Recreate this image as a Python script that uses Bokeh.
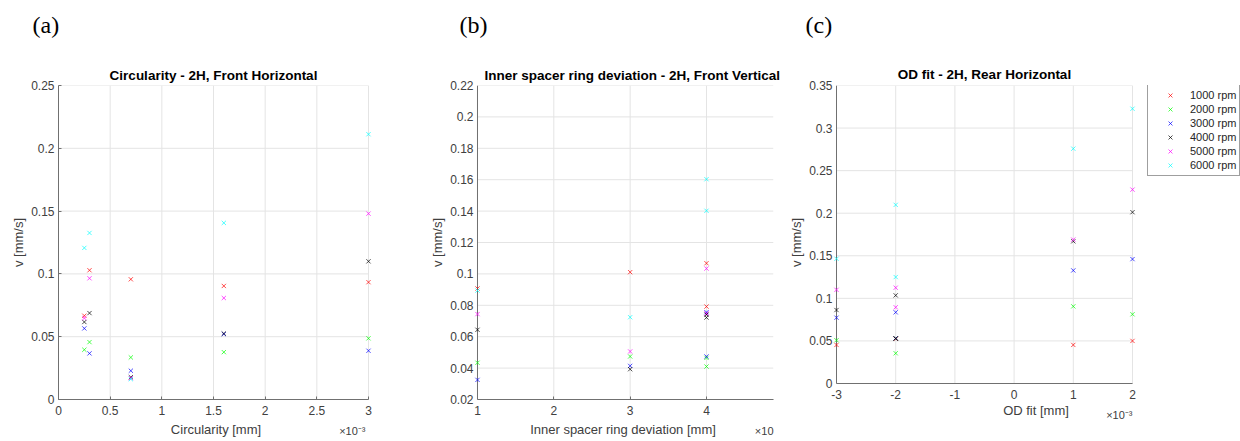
from bokeh.plotting import figure
from bokeh.layouts import row
from bokeh.models import Label, Legend, LegendItem, FixedTicker, NumeralTickFormatter, Range1d
from bokeh.embed import file_html
from bokeh.resources import INLINE

# ---------------- data ----------------
series_labels = ["1000 rpm", "2000 rpm", "3000 rpm", "4000 rpm", "5000 rpm", "6000 rpm"]
series_colors = ["#ff0000", "#00ff00", "#0000ff", "#000000", "#ff00ff", "#00ffff"]

# (a) Circularity [mm] (x in units of 1e-3)
a_x = [0.25, 0.3, 0.7, 1.6, 3.0]
a_1000 = [0.0667, 0.1029, 0.0957, 0.0904, 0.0934]
a_2000 = [0.0396, 0.0457, 0.0335, 0.0377, 0.0487]
a_3000 = [0.0566, 0.0367, 0.0229, 0.0521, 0.0388]
a_4000 = [0.0617, 0.0688, 0.0178, 0.0525, 0.1100]
a_5000 = [0.0648, 0.0965, 0.0170, 0.0808, 0.1480]
a_6000 = [0.1207, 0.1326, 0.0162, 0.1406, 0.2112]
a_xticks = [0, 0.5, 1, 1.5, 2, 2.5, 3]
a_yticks = [0, 0.05, 0.1, 0.15, 0.2, 0.25]

# (b) Inner spacer ring deviation [mm]
b_x = [1, 3, 4, 4]
b_1000 = [0.0907, 0.1011, 0.1068, 0.0792]
b_2000 = [0.0434, 0.0474, 0.0465, 0.0410]
b_3000 = [0.0325, 0.0414, 0.0756, 0.0474]
b_4000 = [0.0644, 0.0393, 0.0741, 0.0722]
b_5000 = [0.0744, 0.0506, 0.1034, 0.0748]
b_6000 = [0.0894, 0.0724, 0.1603, 0.1402]
b_xticks = [1, 2, 3, 4]
b_yticks = [0.02, 0.04, 0.06, 0.08, 0.1, 0.12, 0.14, 0.16, 0.18, 0.2, 0.22]

# (c) OD fit [mm] (x in units of 1e-3)
c_x = [-3, -2, -2, 1, 2]
c_1000 = [0.0453, 0.0530, 0.0525, 0.0453, 0.0500]
c_2000 = [0.0508, 0.0355, 0.0530, 0.0906, 0.0813]
c_3000 = [0.0773, 0.0836, 0.0530, 0.1328, 0.1461]
c_4000 = [0.0863, 0.1035, 0.0527, 0.1670, 0.2012]
c_5000 = [0.1100, 0.1125, 0.0895, 0.1690, 0.2277]
c_6000 = [0.1465, 0.2098, 0.1250, 0.2758, 0.3227]
c_xticks = [-3, -2, -1, 0, 1, 2]
c_yticks = [0, 0.05, 0.1, 0.15, 0.2, 0.25, 0.3, 0.35]

FONT = "Liberation Sans"
AXC = "#707070"
TXC = "#404040"
GRIDC = "#e4e4e4"
H = 441
TOP = 85
BOTTOM = 42


def make_panel(width, mb_lr, view_x, view_y, data_x, data_y, xticks, yticks,
               x_shift, y_shift, xs, ys_list):
    """x_shift / y_shift: pixels between the frame edge and the drawn axis line."""
    p = figure(width=width, height=H, x_range=Range1d(*view_x), y_range=Range1d(*view_y),
               output_backend="svg", toolbar_location=None,
               min_border_left=mb_lr[0], min_border_right=mb_lr[1],
               min_border_top=TOP, min_border_bottom=BOTTOM)
    p.outline_line_color = None
    p.background_fill_color = "white"
    p.border_fill_color = "white"
    p.xgrid.visible = False
    p.ygrid.visible = False

    p.xaxis.ticker = FixedTicker(ticks=xticks)
    p.yaxis.ticker = FixedTicker(ticks=yticks)
    p.xaxis.formatter = NumeralTickFormatter(format="0.[00]")
    p.yaxis.formatter = NumeralTickFormatter(format="0.[00]")
    p.xaxis.bounds = data_x
    p.yaxis.bounds = data_y
    p.yaxis.axis_label = "v [mm/s]"
    for ax in (p.xaxis, p.yaxis):
        ax.axis_line_color = AXC
        ax.major_tick_line_color = AXC
        ax.major_tick_in = 3
        ax.major_tick_out = 0
        ax.minor_tick_line_color = None
        ax.major_label_text_font = FONT
        ax.major_label_text_font_size = "12px"
        ax.major_label_text_color = TXC
        ax.axis_label_text_font = FONT
        ax.axis_label_text_font_size = "13px"
        ax.axis_label_text_font_style = "normal"
        ax.axis_label_text_color = TXC
    p.xaxis.major_label_standoff = 6 - x_shift
    p.xaxis.axis_label_standoff = 4 if x_shift == 0 else 1
    p.yaxis.major_label_standoff = 4 - y_shift
    p.yaxis.axis_label_standoff = 2

    # grid lines from the tick lists, limited to the data box
    p.segment(x0=xticks, y0=[data_y[0]] * len(xticks), x1=xticks, y1=[data_y[1]] * len(xticks),
              line_color=GRIDC, line_width=1)
    p.segment(x0=[data_x[0]] * len(yticks), y0=yticks, x1=[data_x[1]] * len(yticks), y1=yticks,
              line_color=GRIDC, line_width=1)

    # axis lines that sit inside the frame (frame padded so edge markers are not cut)
    if y_shift:
        p.yaxis.axis_line_color = None
        p.yaxis.major_tick_line_color = None
        p.segment(x0=[data_x[0]], y0=[data_y[0]], x1=[data_x[0]], y1=[data_y[1]],
                  line_color=AXC, line_width=1)
    if x_shift:
        p.xaxis.axis_line_color = None
        p.xaxis.major_tick_line_color = None
        p.segment(x0=[data_x[0]], y0=[data_y[0]], x1=[data_x[1]], y1=[data_y[0]],
                  line_color=AXC, line_width=1)

    rends = []
    for ys, col in zip(ys_list, series_colors):
        r = p.scatter(x=xs, y=ys, marker="x", size=6, line_color=col,
                      line_alpha=0.7, line_width=1)
        rends.append(r)
    return p, rends


def add_texts(p, title, title_pos, title_align, tag, tag_pos, exp_text, exp_pos, xlabel):
    p.xaxis.axis_label = xlabel
    p.add_layout(Label(x=title_pos[0], y=title_pos[1], x_offset=title_pos[2], y_offset=title_pos[3],
                       text=title, text_font=FONT, text_font_size="13.5px", text_font_style="bold",
                       text_align=title_align, text_baseline="middle", text_color="#000000"), "above")
    p.add_layout(Label(x=tag_pos[0], y=tag_pos[1], x_offset=tag_pos[2], y_offset=tag_pos[3],
                       text=tag, text_font="Liberation Serif", text_font_size="24px",
                       text_align="left", text_baseline="middle", text_color="#000000"), "above")
    p.add_layout(Label(x=exp_pos[0], y=exp_pos[1], x_offset=exp_pos[2], y_offset=exp_pos[3],
                       text=exp_text, text_font=FONT, text_font_size="11px",
                       text_align="right", text_baseline="middle", text_color=TXC), "above")


# panel (a): frame 58..373 (x 0..3 -> 58..368), y 0..0.25 -> 399..85
p1, _ = make_panel(420, (58, 47), (0, 3 + 5 * 3 / 310), (0, 0.25), (0, 3), (0, 0.25),
                   a_xticks, a_yticks, 0, 0, a_x,
                   [a_1000, a_2000, a_3000, a_4000, a_5000, a_6000])
add_texts(p1, "Circularity - 2H, Front Horizontal", (1.5, 0.25, 0, 10), "center",
          "(a)", (0, 0.25, -26, 61), "×10⁻³", (3, 0, -3, -31), "Circularity [mm]")

# panel (b): frame 472..773 (x 1..4 -> 477..706)
bx_lo = 1 - 5 / 76.33
p2, _ = make_panel(366, (52, 13), (bx_lo, 4.878), (0.02, 0.22), (1, 4.878), (0.02, 0.22),
                   b_xticks, b_yticks, 0, 5, b_x,
                   [b_1000, b_2000, b_3000, b_4000, b_5000, b_6000])
add_texts(p2, "Inner spacer ring deviation - 2H, Front Vertical", (1, 0.22, 7, 10), "left",
          "(b)", (1, 0.22, -18, 61), "×10", (4.878, 0.02, 0, -31), "Inner spacer ring deviation [mm]")

# panel (c): frame 831..1240 (x -3..2 -> 836..1132; legend sits in the frame, right of the data)
cpx = 59.2
c_xlo = -3 - 5 / cpx
c_xhi = -3 + (1240 - 836) / cpx
c_ylo = -16 / 298 * 0.35
p3, r3 = make_panel(454, (45, 0), (c_xlo, c_xhi), (c_ylo, 0.35), (-3, 2), (0, 0.35),
                    c_xticks, c_yticks, 16, 5, c_x,
                    [c_1000, c_2000, c_3000, c_4000, c_5000, c_6000])
add_texts(p3, "OD fit - 2H, Rear Horizontal", (-0.5, 0.35, 0, 11), "center",
          "(c)", (-3, 0.35, -31, 61), "×10⁻³", (2, 0, 0, -31), "OD fit [mm]")

legend = Legend(items=[LegendItem(label=l, renderers=[r]) for l, r in zip(series_labels, r3)],
                location=(316, 223), label_text_font=FONT, label_text_font_size="11px",
                label_text_color="#262626", label_height=14, glyph_height=14, glyph_width=38,
                label_standoff=1, spacing=0, padding=3, margin=0,
                border_line_color="#404040", border_line_width=1,
                background_fill_color="white", background_fill_alpha=1.0)
p3.add_layout(legend, "center")

layout = row(p1, p2, p3)
open("out.html", "w").write(file_html(layout, INLINE))
